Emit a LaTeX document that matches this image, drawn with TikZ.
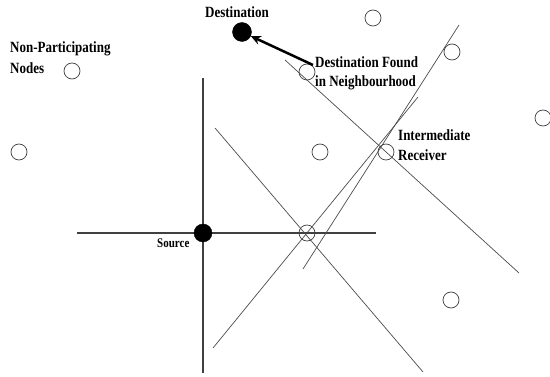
\documentclass[tikz,border=0pt]{standalone}
\usepackage{fontspec}
\setmainfont{Liberation Serif}
\usetikzlibrary{arrows.meta}
\tikzset{
  onode/.style={circle, draw=black!75, line width=0.7pt, minimum size=16pt, inner sep=0pt},
  fnode/.style={circle, fill=black, draw=black, minimum size=18pt, inner sep=0pt},
  gline/.style={draw=black!70, line width=0.7pt},
  axline/.style={draw=black!75, line width=1.1pt},
  lbl/.style={inner sep=0pt, anchor=base west, font=\fontsize{13}{15.5}\selectfont\bfseries},
  slbl/.style={inner sep=0pt, anchor=base west, font=\fontsize{11}{13}\selectfont\bfseries},
}
\newcommand{\stretchtext}[1]{\scalebox{1}[1.2]{\begin{tabular}[t]{@{}l@{}}#1\end{tabular}}}
\begin{document}
\begin{tikzpicture}[x=1pt,y=-1pt]
\useasboundingbox (0,0) rectangle (550,377);
\fill[white] (0,0) rectangle (550,377);
% line end points
\coordinate (hA) at (77,233);
\coordinate (hB) at (376,233);
\coordinate (vA) at (203,78);
\coordinate (vB) at (203,373);
\coordinate (dA) at (215,128);
\coordinate (dB) at (423,372);
\coordinate (eA) at (213,348);
\coordinate (eB) at (418,97);
\coordinate (fA) at (303,269);
\coordinate (fB) at (459,25);
\coordinate (gA) at (285,60);
\coordinate (gB) at (519,273);
% lines
\draw[axline] (hA) -- (hB);
\draw[axline] (vA) -- (vB);
\draw[gline] (dA) -- (dB);
\draw[gline] (eA) -- (eB);
\draw[gline] (fA) -- (fB);
\draw[gline] (gA) -- (gB);
% nodes
\node[onode] (n1) at (72,71) {};
\node[onode] (n2) at (19,152) {};
\node[onode] (n3) at (373,18) {};
\node[onode] (n4) at (452,52) {};
\node[onode] (nf) at (307,72) {};
\node[onode] (n5) at (543,118) {};
\node[onode] (n6) at (320,152) {};
\node[onode] (ir) at (386,152) {};
\node[onode] (n7) at (451,300) {};
\node[onode] (xs) at (307,233) {};
\node[fnode] (src) at (203,233) {};
\node[fnode, minimum size=19pt] (dst) at (242,32) {};
% arrow
\coordinate (arrS) at (313,65);
\draw[line width=2.5pt, -{Stealth[length=10pt,width=9pt]}] (arrS) -- (dst);
% labels
\node[lbl] (tDst) at (205,18) {\stretchtext{Destination}};
\node[lbl] (tNon) at (10,53) {\stretchtext{Non-Participating\\[2pt] Nodes}};
\node[lbl] (tFound) at (315,68) {\stretchtext{Destination Found\\ in Neighbourhood}};
\node[lbl] (tIR) at (398,141) {\stretchtext{Intermediate\\[1pt] Receiver}};
\node[slbl] (tSrc) at (157,248) {\stretchtext{Source}};
\end{tikzpicture}
\end{document}
